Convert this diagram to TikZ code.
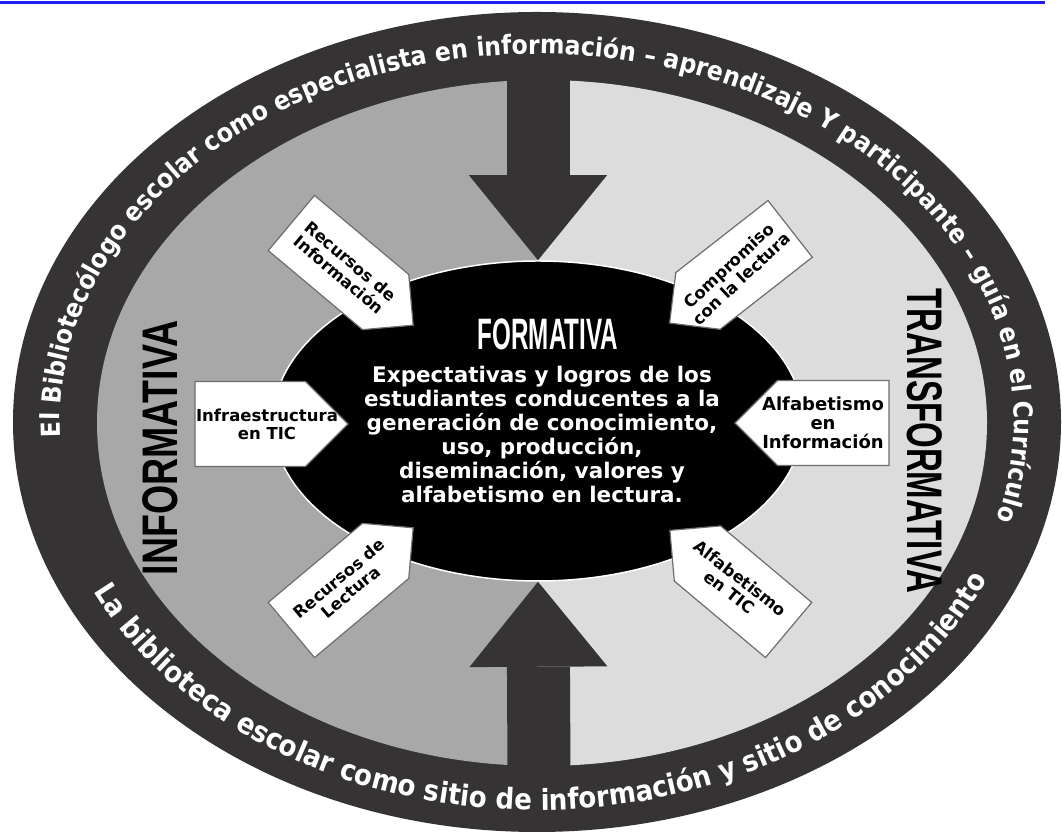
\documentclass[tikz,border=0pt]{standalone}
\usepackage{fontspec}
\usetikzlibrary{shapes.geometric,arrows.meta,decorations.text}
\newfontfamily\labelfont{DejaVu Sans}
\newfontfamily\ringfont[FakeStretch=0.9]{DejaVu Sans}
\newfontfamily\titlefont[FakeStretch=0.55]{Liberation Sans}
\newfontfamily\sidefont[FakeStretch=0.75]{Liberation Sans}
\newfontfamily\longfont[FakeStretch=0.66]{Liberation Sans}
\definecolor{bandgray}{HTML}{353333}
\definecolor{leftgray}{HTML}{A8A8A8}
\definecolor{rightgray}{HTML}{DCDCDC}
\definecolor{edgegray}{HTML}{6E6E6E}
\definecolor{lineblue}{HTML}{1E1EF0}
\begin{document}
\begin{tikzpicture}[x=1pt,y=1pt,
    tagline/.style={draw=edgegray, fill=white, line width=1.2pt, line join=miter},
    tagtext/.style={align=center, inner sep=0pt, font=\labelfont\bfseries\fontsize{16.5}{18}\selectfont},
    bigarrow/.style={draw=bandgray, line width=63pt,
      -{Triangle[width=138pt,length=85pt,line width=0pt]}},
    ringtext/.style={decorate, decoration={text along path, text align=center, text color=white, text={#1}}}]
  \useasboundingbox (0,0) rectangle (1062,834);
  \fill[white] (0,0) rectangle (1062,834);
  \draw[lineblue, line width=3pt] (0,831) -- (1045,831);

  \fill[bandgray] (537,412) ellipse [x radius=524, y radius=410];
  \begin{scope}
    \clip (542,411) ellipse [x radius=445, y radius=343];
    \fill[leftgray] (0,0) rectangle (538,834);
    \fill[rightgray] (538,0) rectangle (1062,834);
  \end{scope}

  \node[ellipse, fill=black, draw=white, line width=1.5pt, minimum width=530pt,
    minimum height=320pt, inner sep=0pt] (O) at (538,413) {};
  \coordinate (N) at (538,764);
  \coordinate (S) at (539,62);
  \draw[bigarrow] (N) -- (O.north);
  \draw[bigarrow] (S) -- (O.south);

  \path[ringtext={|\ringfont\bfseries\fontsize{26.2}{27}\selectfont|El Bibliotecólogo escolar como especialista en información – aprendizaje Y participante – guía en el Currículo}]
    (537,412) ++(186:477 and 368) arc [start angle=186, end angle=-19, x radius=477, y radius=368];
  \path[ringtext={|\ringfont\bfseries\fontsize{29}{30}\selectfont|La biblioteca escolar como sitio de información y sitio de conocimiento}]
    (537,412) ++(202:493 and 388) arc [start angle=202, end angle=340, x radius=493, y radius=388];

  \node[text=white, font=\titlefont\bfseries\fontsize{44}{44}\selectfont] (T) at (548,500) {FORMATIVA};
  \node[text=white, align=center, font=\labelfont\bfseries\fontsize{21.5}{24}\selectfont]
    (G) at (542,400) {Expectativas y logros de los\\estudiantes conducentes a la\\generación de conocimiento,\\uso, producción,\\diseminación, valores y\\alfabetismo en lectura.};
  \node[rotate=90, font=\sidefont\bfseries\fontsize{50}{50}\selectfont] (L) at (160,386) {INFORMATIVA};
  \node[rotate=-90, font=\longfont\bfseries\fontsize{50}{50}\selectfont] (R) at (925,393) {TRANSFORMATIVA};

  \foreach \x/\y/\r/\b/\t/\h in {345/566/-40/70/89/36, 735/562/218/70/83/36,
      267/410/0/72/81/42.5, 823/411/180/66/88/42.5,
      345/249/40/70/89/36, 735/249/140/70/85/36}
    \draw[tagline, shift={(\x,\y)}, rotate=\r]
      (-\b,-\h) -- (\t-\h,-\h) -- (\t,0) -- (\t-\h,\h) -- (-\b,\h) -- cycle;

  \node[tagtext, rotate=-40] (A) at (345,566) {Recursos de\\Información};
  \node[tagtext, rotate=43] (B) at (735,562) {Compromiso\\con la lectura};
  \node[tagtext] (C) at (267,410) {Infraestructura\\en TIC};
  \node[tagtext, font=\labelfont\bfseries\fontsize{18}{19}\selectfont] (D) at (823,411) {Alfabetismo\\en\\Información};
  \node[tagtext, rotate=40] (E) at (345,249) {Recursos de\\Lectura};
  \node[tagtext, rotate=-38] (F) at (735,249) {Alfabetismo\\en TIC};
\end{tikzpicture}
\end{document}
